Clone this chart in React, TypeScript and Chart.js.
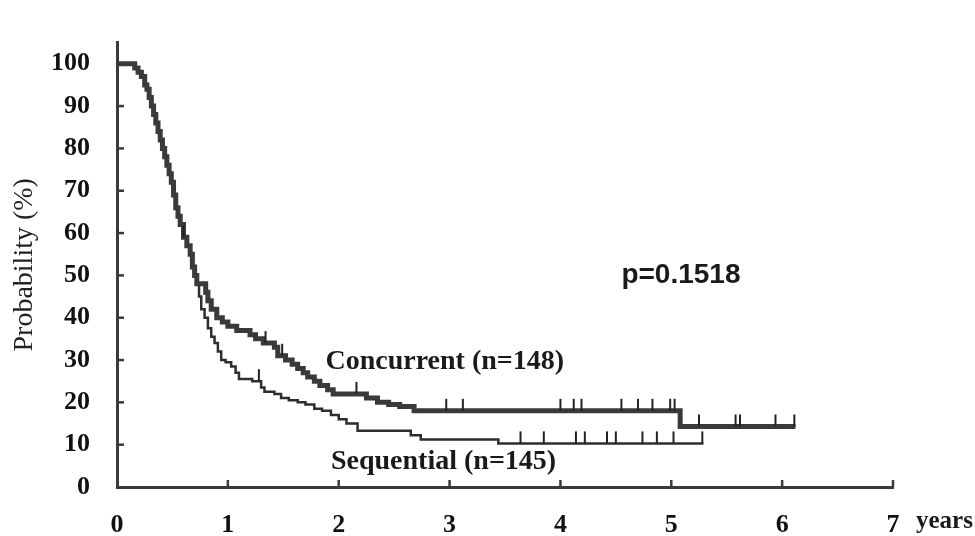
import React, { useEffect, useRef } from "react";
import { Chart, registerables } from "chart.js";

Chart.register(...registerables);

// ---- data ----
const yearTicks = [0, 1, 2, 3, 4, 5, 6, 7];
const probabilityTicks = [0, 10, 20, 30, 40, 50, 60, 70, 80, 90, 100];

const concurrentTime = [
  0, 0.16, 0.19, 0.22, 0.25, 0.27, 0.29, 0.31, 0.33, 0.35,
  0.37, 0.39, 0.41, 0.43, 0.45, 0.47, 0.49, 0.51, 0.53, 0.55,
  0.57, 0.6, 0.63, 0.66, 0.68, 0.7, 0.72, 0.8, 0.82, 0.85,
  0.9, 0.95, 1.0, 1.08, 1.2, 1.25, 1.32, 1.42, 1.45, 1.52,
  1.58, 1.63, 1.68, 1.72, 1.78, 1.83, 1.9, 1.95, 2.25, 2.35,
  2.45, 2.55, 2.68, 5.08, 6.12,
];
const concurrentSurvival = [
  100, 99, 98, 97, 95, 94, 92, 90, 88, 86,
  84, 82, 80, 78, 76, 74, 72, 69, 66, 64,
  62, 59, 57, 55, 52, 50, 48, 46, 44, 42,
  40, 39, 38, 37, 36, 35, 34, 33, 31, 30,
  29, 28, 27, 26, 25, 24, 23, 22, 21, 20,
  19.5, 19, 18, 14.3, 14.3,
];
const concurrentCensored = [
  0.6, 1.34, 1.49, 2.16, 2.97, 3.12, 4.0, 4.12, 4.19, 4.55,
  4.7, 4.83, 4.99, 5.03, 5.25, 5.58, 5.62, 5.94, 6.11,
];

const sequentialTime = [
  0, 0.16, 0.19, 0.22, 0.25, 0.27, 0.29, 0.31, 0.33, 0.35,
  0.37, 0.39, 0.41, 0.43, 0.45, 0.47, 0.49, 0.51, 0.53, 0.55,
  0.57, 0.6, 0.63, 0.66, 0.68, 0.7, 0.72, 0.74, 0.76, 0.79,
  0.82, 0.85, 0.88, 0.91, 0.94, 0.98, 1.03, 1.07, 1.1, 1.22,
  1.3, 1.33, 1.42, 1.48, 1.55, 1.63, 1.7, 1.78, 1.85, 1.93,
  2.0, 2.07, 2.17, 2.65, 2.74, 3.44, 5.29,
];
const sequentialSurvival = [
  100, 99, 98, 97, 95, 94, 92, 90, 88, 86,
  84, 82, 80, 78, 76, 74, 72, 69, 66, 64,
  62, 59, 57, 55, 52, 50, 48, 45, 42, 40,
  37.5, 35.5, 34, 32, 30, 29.5, 28.5, 27, 25.5, 25,
  23.5, 22.5, 22, 21, 20.5, 20, 19.5, 18.5, 18, 17,
  16, 15, 13.3, 12.2, 11.2, 10.3, 10.3,
];
const sequentialCensored = [1.28, 3.64, 3.85, 4.14, 4.22, 4.42, 4.5, 4.74, 4.87, 5.02, 5.28];

const seriesLabels = ["Concurrent (n=148)", "Sequential (n=145)"];
const pValueText = "p=0.1518";
const yTitle = "Probability (%)";
const xUnit = "years";

// ---- helpers ----
const toPoints = (t: number[], s: number[]) => t.map((v, i) => ({ x: v, y: s[i] }));
const survivalAt = (t: number[], s: number[], time: number) => {
  let v = s[0];
  for (let i = 0; i < t.length; i++) {
    if (t[i] <= time) v = s[i];
    else break;
  }
  return v;
};

const SERIF = '"Liberation Serif", "Times New Roman", serif';
const SANS = '"Liberation Sans", Arial, sans-serif';

const extrasPlugin = {
  id: "kmExtras",
  afterDatasetsDraw(chart: any) {
    const { ctx } = chart;
    const x = chart.scales.x;
    const y = chart.scales.y;
    ctx.save();
    // inward axis tick marks
    ctx.strokeStyle = "#3a3a3a";
    ctx.lineWidth = 2.5;
    probabilityTicks.forEach((v) => {
      if (v === 0) return;
      const py = y.getPixelForValue(v);
      ctx.beginPath();
      ctx.moveTo(x.left, py);
      ctx.lineTo(x.left + 7, py);
      ctx.stroke();
    });
    yearTicks.forEach((v) => {
      if (v === 0) return;
      const px = x.getPixelForValue(v);
      ctx.beginPath();
      ctx.moveTo(px, y.bottom);
      ctx.lineTo(px, y.bottom - 7);
      ctx.stroke();
    });
    // censor marks
    const censor = (times: number[], t: number[], s: number[]) => {
      ctx.strokeStyle = "#222";
      ctx.lineWidth = 2;
      times.forEach((c) => {
        const px = x.getPixelForValue(c);
        const py = y.getPixelForValue(survivalAt(t, s, c));
        ctx.beginPath();
        ctx.moveTo(px, py);
        ctx.lineTo(px, py - 12);
        ctx.stroke();
      });
    };
    censor(concurrentCensored, concurrentTime, concurrentSurvival);
    censor(sequentialCensored, sequentialTime, sequentialSurvival);
    // annotations
    ctx.fillStyle = "#1a1a1a";
    ctx.textBaseline = "middle";
    ctx.textAlign = "left";
    ctx.font = `bold 28px ${SERIF}`;
    ctx.fillText(seriesLabels[0], x.getPixelForValue(1.88), y.getPixelForValue(29.5));
    ctx.fillText(seriesLabels[1], x.getPixelForValue(1.93), y.getPixelForValue(5.9));
    ctx.font = `bold 28px ${SANS}`;
    ctx.fillText(pValueText, x.getPixelForValue(4.55), y.getPixelForValue(50));
    ctx.font = `bold 25px ${SERIF}`;
    ctx.fillText(xUnit, x.getPixelForValue(7) + 23, y.bottom + 35);
    ctx.restore();
  },
};

export default function App() {
  const ref = useRef<HTMLCanvasElement | null>(null);

  useEffect(() => {
    if (!ref.current) return;
    const chart = new Chart(ref.current, {
      type: "line",
      data: {
        datasets: [
          {
            label: seriesLabels[0] + " outline",
            data: toPoints(concurrentTime, concurrentSurvival),
            borderColor: "#3a3a3a",
            borderWidth: 5,
            stepped: "before",
            pointRadius: 0,
            fill: false,
          },
          {
            label: seriesLabels[0],
            data: toPoints(concurrentTime, concurrentSurvival),
            borderColor: "#a0a0a0",
            borderWidth: 2,
            stepped: "before",
            pointRadius: 0,
            fill: false,
          },
          {
            label: seriesLabels[1],
            data: toPoints(sequentialTime, sequentialSurvival),
            borderColor: "#2e2e2e",
            borderWidth: 2.5,
            stepped: "before",
            pointRadius: 0,
            fill: false,
          },
        ],
      },
      options: {
        responsive: false,
        animation: false,
        events: [],
        layout: { padding: { top: 20, right: 82, left: 0, bottom: 0 } },
        plugins: {
          legend: { display: false },
          tooltip: { enabled: false },
        },
        scales: {
          x: {
            type: "linear",
            min: 0,
            max: 7,
            grid: { display: false, drawTicks: false },
            border: { display: true, color: "#3a3a3a", width: 3 },
            afterBuildTicks: (s: any) => {
              s.ticks = yearTicks.map((v) => ({ value: v }));
            },
            afterFit: (s: any) => {
              s.height = 49;
            },
            ticks: {
              color: "#111",
              padding: 23,
              maxRotation: 0,
              font: { family: SERIF, size: 26, weight: "bold" },
            },
          },
          y: {
            type: "linear",
            min: 0,
            max: 105,
            grid: { display: false, drawTicks: false },
            border: { display: true, color: "#3a3a3a", width: 3 },
            afterBuildTicks: (s: any) => {
              s.ticks = probabilityTicks.map((v) => ({ value: v }));
            },
            afterFit: (s: any) => {
              s.width = 117;
            },
            ticks: {
              color: "#111",
              padding: 27,
              font: { family: SERIF, size: 26, weight: "bold" },
            },
            title: {
              display: true,
              text: yTitle,
              color: "#222",
              padding: { top: 8, bottom: 0 },
              font: { family: SERIF, size: 28, weight: "normal" },
            },
          },
        },
      },
      plugins: [extrasPlugin],
    } as any);
    return () => chart.destroy();
  }, []);

  return (
    <div style={{ position: "absolute", left: 0, top: 0, width: 975, height: 536, background: "#fff" }}>
      <canvas ref={ref} width={975} height={536} style={{ display: "block" }} />
    </div>
  );
}
